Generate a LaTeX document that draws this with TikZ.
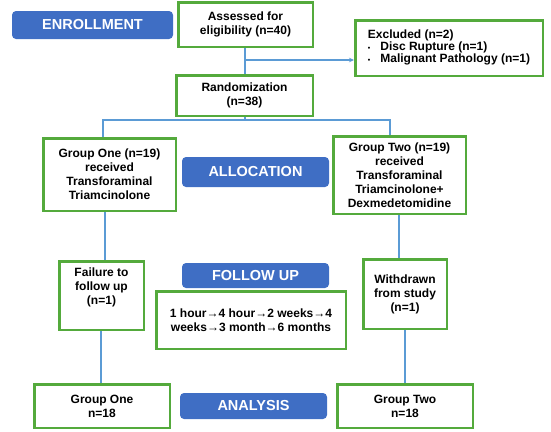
\documentclass[tikz,border=0pt]{standalone}
\usepackage{fontspec}
\setmainfont{Liberation Sans}
\usetikzlibrary{arrows.meta}
\definecolor{gbox}{RGB}{84,170,60}
\definecolor{bbox}{RGB}{63,110,196}
\definecolor{lnk}{RGB}{91,155,213}
\begin{document}
\begin{tikzpicture}[x=1pt,y=-1pt,
  gb/.style={draw=gbox, line width=2.5pt, fill=white, inner sep=0pt, align=center,
    font=\fontsize{12}{14}\selectfont\bfseries},
  bb/.style={fill=bbox, rounded corners=4pt, text=white, inner sep=0pt,
    font=\fontsize{14.5}{15}\selectfont\bfseries},
  lk/.style={draw=lnk, line width=1.3pt}]
\useasboundingbox (0,0) rectangle (551,431);

% phase labels
\node[bb, minimum width=161pt, minimum height=28pt] (enroll) at (92.5,25) {ENROLLMENT};
\node[bb, minimum width=147pt, minimum height=30pt] (alloc) at (255.5,172) {ALLOCATION};
\node[bb, minimum width=147pt, minimum height=25pt] (follow) at (255.5,275.5) {FOLLOW UP};
\node[bb, minimum width=147pt, minimum height=26pt] (analysis) at (253.5,406) {ANALYSIS};

% boxes
\node[gb, minimum width=134.5pt, minimum height=44.5pt] (assess) at (245.5,24.5) {Assessed for\\eligibility (n=40)};
\node[gb, minimum width=187.5pt, minimum height=55.5pt] (excl) at (449,48)
  {\begin{tabular}{@{}l@{\hspace{10pt}}l@{}}\multicolumn{2}{@{}l@{}}{Excluded (n=2)}\\[-2pt]
   {\scriptsize\textbullet} & Disc Rupture (n=1)\\[-2pt]
   {\scriptsize\textbullet} & Malignant Pathology (n=1)\end{tabular}};
\node[gb, minimum width=136.5pt, minimum height=40.5pt] (rand) at (244.5,95.5) {Randomization\\(n=38)};
\node[gb, minimum width=132.5pt, minimum height=72.5pt] (g1) at (109.5,174.5) {Group One (n=19)\\received\\Transforaminal\\Triamcinolone};
\node[gb, minimum width=132.5pt, minimum height=77.5pt] (g2) at (399.5,175) {Group Two (n=19)\\received\\Transforaminal\\Triamcinolone+\\Dexmedetomidine};
\node[gb, minimum width=84.5pt, minimum height=68.5pt] (fail) at (101.5,295.5) {Failure to\\follow up\\(n=1)\\[4pt]};
\node[gb, minimum width=189.5pt, minimum height=57.5pt] (time) at (251,320) {1 hour→4 hour→2 weeks→4\\weeks→3 month→6 months};
\node[gb, minimum width=83.5pt, minimum height=69.5pt] (wd) at (405,294) {Withdrawn\\from study\\(n=1)};
\node[gb, minimum width=135.5pt, minimum height=43.5pt] (f1) at (102,406) {Group One\\n=18};
\node[gb, minimum width=135.5pt, minimum height=43.5pt] (f2) at (405,406) {Group Two\\n=18};

% connectors
\coordinate (bj) at (245,60);
\coordinate (barL) at (103,120);
\coordinate (barR) at (390,120);
\coordinate (colL) at (105,0);
\coordinate (colL2) at (101,0);
\coordinate (colR) at (399,0);
\coordinate (colR2) at (405,0);
\draw[lk] (assess.south -| bj) -- (rand.north -| bj);
\draw[lk,-{Stealth[length=5pt,width=4.5pt]}] (bj) -- (bj -| excl.west);
\draw[lk] (rand.south -| bj) -- (bj |- barL);
\draw[lk] (g1.north -| barL) -- (barL) -- (barR) -- (g2.north -| barR);
\draw[lk] (g1.south -| colL) -- (fail.north -| colL);
\draw[lk] (fail.south -| colL2) -- (f1.north -| colL2);
\draw[lk] (g2.south -| colR) -- (wd.north -| colR);
\draw[lk] (wd.south -| colR2) -- (f2.north -| colR2);
\end{tikzpicture}
\end{document}
